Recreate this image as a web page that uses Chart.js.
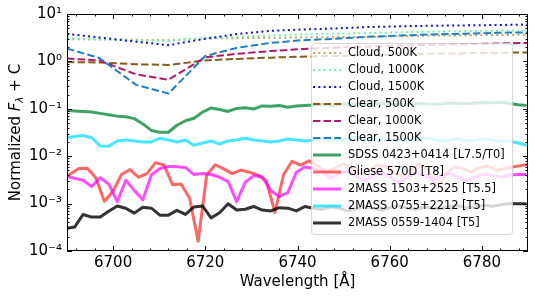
<!DOCTYPE html>
<html>
<head>
<meta charset="utf-8">
<script src="https://cdn.jsdelivr.net/npm/chart.js@4.4.1/dist/chart.umd.min.js"></script>
<style>
  html, body { margin: 0; padding: 0; background: #fff; }
</style>
</head>
<body>
<canvas id="spectra" width="535" height="299"></canvas>
<script>
const FONT = '"DejaVu Sans", sans-serif';

// model grid (coarse)
const WAVE_MODEL = [6690, 6697, 6705, 6712, 6720, 6727, 6734, 6741, 6748, 6755, 6762, 6769, 6776, 6783, 6790];
const CLOUD_500  = [2.95, 2.9, 2.85, 2.8, 3.05, 3.1, 3.15, 3.2, 3.25, 3.3, 3.4, 3.5, 3.55, 3.6, 3.65];
const CLOUD_1000 = [3.1, 2.95, 2.75, 2.7, 3.15, 3.35, 3.5, 3.7, 3.85, 3.95, 4.1, 4.25, 4.35, 4.45, 4.5];
const CLOUD_1500 = [3.8, 3.2, 2.6, 2.2, 3.0, 3.8, 4.4, 4.7, 4.95, 5.3, 5.5, 5.65, 5.75, 5.85, 6.0];
const CLEAR_500  = [0.97, 0.95, 0.87, 0.84, 1.05, 1.13, 1.2, 1.26, 1.3, 1.35, 1.4, 1.45, 1.48, 1.52, 1.55];
const CLEAR_1000 = [1.15, 1.05, 0.53, 0.41, 1.22, 1.45, 1.65, 1.82, 1.95, 2.05, 2.15, 2.25, 2.3, 2.38, 2.45];
const CLEAR_1500 = [1.87, 1.18, 0.32, 0.21, 1.3, 1.95, 2.45, 2.8, 3.0, 3.3, 3.5, 3.7, 3.85, 4.0, 4.1];

// observed spectra
const WAVE_OBS = [
  6689.8, 6691.65, 6693.5, 6695.35, 6697.2, 6699.05, 6700.9, 6702.75, 6704.6, 6706.45,
  6708.3, 6710.15, 6712.0, 6713.85, 6715.7, 6717.55, 6719.4, 6721.25, 6723.1, 6724.95,
  6726.8, 6728.65, 6730.5, 6732.35, 6734.2, 6736.05, 6737.9, 6739.75, 6741.6, 6743.45,
  6745.3, 6747.15, 6749.0, 6750.85, 6752.7, 6754.55, 6756.4, 6758.25, 6760.1, 6761.95,
  6763.8, 6765.65, 6767.5, 6769.35, 6771.2, 6773.05, 6774.9, 6776.75, 6778.6, 6780.45,
  6782.3, 6784.15, 6786.0, 6787.85, 6789.7
];
const WAVE_GLIESE = [
  6688.85, 6690.7, 6692.55, 6694.4, 6696.25, 6698.1, 6699.95, 6701.8, 6703.65, 6705.5,
  6707.35, 6709.2, 6711.05, 6712.9, 6714.75, 6716.6, 6718.45, 6720.3, 6722.15, 6724.0,
  6725.85, 6727.7, 6729.55, 6731.4, 6733.25, 6735.1, 6736.95, 6738.8, 6740.65, 6742.5,
  6744.35, 6746.2, 6748.05, 6749.9, 6751.75, 6753.6, 6755.45, 6757.3, 6759.15, 6761.0,
  6762.85, 6764.7, 6766.55, 6768.4, 6770.25, 6772.1, 6773.95, 6775.8, 6777.65, 6779.5,
  6781.35, 6783.2, 6785.05, 6786.9, 6788.75, 6790.6
];
const SDSS_0423 = [
  0.092, 0.090, 0.088, 0.086, 0.080, 0.075, 0.070, 0.068, 0.062, 0.048,
  0.035, 0.032, 0.032, 0.045, 0.056, 0.063, 0.085, 0.104, 0.097, 0.088,
  0.102, 0.105, 0.099, 0.115, 0.113, 0.117, 0.108, 0.115, 0.118, 0.120,
  0.125, 0.118, 0.122, 0.128, 0.125, 0.120, 0.124, 0.130, 0.127, 0.122,
  0.125, 0.130, 0.128, 0.124, 0.127, 0.132, 0.130, 0.128, 0.133, 0.136,
  0.134, 0.137, 0.130, 0.122, 0.117
];
const GLIESE_570D = [
  0.0034, 0.0042, 0.0055, 0.0056, 0.0035, 0.00112, 0.0018, 0.0041, 0.0052, 0.0036,
  0.0043, 0.0073, 0.0065, 0.0025, 0.0026, 0.0013, 0.00016, 0.0040, 0.0066, 0.0054,
  0.0043, 0.0051, 0.0046, 0.0040, 0.0030, 0.00065, 0.0040, 0.0078, 0.0065, 0.0080,
  0.0062, 0.0048, 0.0055, 0.0070, 0.0058, 0.0042, 0.0050, 0.0065, 0.0060, 0.0045,
  0.0038, 0.0052, 0.0068, 0.0050, 0.0022, 0.0040, 0.0060, 0.0055, 0.0046, 0.0058,
  0.0062, 0.0050, 0.0055, 0.0060, 0.0064, 0.0068
];
const MASS_1503 = [
  0.0038, 0.0034, 0.0031, 0.0023, 0.0035, 0.0026, 0.0011, 0.0031, 0.0019, 0.0012,
  0.0040, 0.0055, 0.0061, 0.0060, 0.0058, 0.0041, 0.0043, 0.0041, 0.0036, 0.0029,
  0.0011, 0.0028, 0.0039, 0.0037, 0.0019, 0.0014, 0.0017, 0.0046, 0.0059, 0.0055,
  0.0048, 0.0035, 0.0042, 0.0050, 0.0038, 0.0030, 0.0040, 0.0047, 0.0036, 0.0028,
  0.0035, 0.0045, 0.0040, 0.0032, 0.0038, 0.0044, 0.0036, 0.0030, 0.0037, 0.0042,
  0.0039, 0.0036, 0.0040, 0.0041, 0.0041
];
const MASS_0755 = [
  0.0245, 0.026, 0.0274, 0.0245, 0.0165, 0.0162, 0.021, 0.022, 0.021, 0.020,
  0.020, 0.024, 0.022, 0.020, 0.022, 0.017, 0.019, 0.021, 0.018, 0.021,
  0.022, 0.024, 0.022, 0.021, 0.020, 0.021, 0.023, 0.022, 0.021, 0.022,
  0.024, 0.022, 0.021, 0.023, 0.025, 0.023, 0.022, 0.024, 0.022, 0.021,
  0.023, 0.022, 0.024, 0.023, 0.021, 0.022, 0.023, 0.021, 0.022, 0.023,
  0.022, 0.021, 0.021, 0.019, 0.017
];
const MASS_0559 = [
  0.0003, 0.00032, 0.00059, 0.00052, 0.00052, 0.00069, 0.00089, 0.0008, 0.00063, 0.00084,
  0.0008, 0.00057, 0.00057, 0.00072, 0.00059, 0.00085, 0.00089, 0.0005, 0.00064, 0.00099,
  0.00073, 0.00076, 0.00087, 0.00073, 0.0007, 0.00082, 0.0008, 0.0007, 0.00087, 0.0008,
  0.00075, 0.00085, 0.0008, 0.0007, 0.00078, 0.00088, 0.0008, 0.00072, 0.00082, 0.0009,
  0.0008, 0.00075, 0.00085, 0.0008, 0.00078, 0.00088, 0.0009, 0.00082, 0.00085, 0.00092,
  0.00088, 0.00095, 0.001, 0.00099, 0.00099
];

const X_TICKS = [6700, 6720, 6740, 6760, 6780];
const X_TICK_LABELS = ['6700', '6720', '6740', '6760', '6780'];
const Y_TICKS = [1e-4, 1e-3, 1e-2, 1e-1, 1, 10];
const Y_TICK_LABELS = ['10\u207B\u2074', '10\u207B\u00B3', '10\u207B\u00B2', '10\u207B\u00B9', '10\u2070', '10\u00B9'];

const DOT = [2, 3.3];
const DASH = [7.4, 3.2];

const SERIES = [
  { label: 'Cloud, 500K',  x: WAVE_MODEL, y: CLOUD_500,  color: '#c4a065', dash: DOT,  width: 2 },
  { label: 'Cloud, 1000K', x: WAVE_MODEL, y: CLOUD_1000, color: '#6cf5ac', dash: DOT,  width: 2 },
  { label: 'Cloud, 1500K', x: WAVE_MODEL, y: CLOUD_1500, color: '#1414c8', dash: DOT,  width: 2 },
  { label: 'Clear, 500K',  x: WAVE_MODEL, y: CLEAR_500,  color: '#8c5a1e', dash: DASH, width: 2 },
  { label: 'Clear, 1000K', x: WAVE_MODEL, y: CLEAR_1000, color: '#b01a6a', dash: DASH, width: 2 },
  { label: 'Clear, 1500K', x: WAVE_MODEL, y: CLEAR_1500, color: '#2080c0', dash: DASH, width: 2 },
  { label: 'SDSS 0423+0414 [L7.5/T0]', x: WAVE_OBS, y: SDSS_0423, color: 'rgba(30,145,75,0.85)', dash: [], width: 3 },
  { label: 'Gliese 570D [T8]', x: WAVE_GLIESE, y: GLIESE_570D, color: 'rgba(255,60,60,0.78)', dash: [], width: 3 },
  { label: '2MASS 1503+2525 [T5.5]', x: WAVE_OBS, y: MASS_1503, color: 'rgba(255,0,255,0.7)', dash: [], width: 3 },
  { label: '2MASS 0755+2212 [T5]', x: WAVE_OBS, y: MASS_0755, color: 'rgba(0,220,255,0.72)', dash: [], width: 3 },
  { label: '2MASS 0559-1404 [T5]', x: WAVE_OBS, y: MASS_0559, color: 'rgba(0,0,0,0.8)', dash: [], width: 3 }
];

// frame with inward ticks on all four sides
const frameTicks = {
  id: 'frameTicks',
  afterDatasetsDraw(chart) {
    const { ctx, chartArea: a, scales: { x, y } } = chart;
    ctx.save();
    ctx.strokeStyle = '#000';
    ctx.lineWidth = 1;
    ctx.strokeRect(a.left + 0.5, a.top + 0.5, a.right - a.left - 1, a.bottom - a.top - 1);
    ctx.beginPath();
    for (let v = x.min + 2; v < x.max; v += 4) {
      const px = Math.round(x.getPixelForValue(v)) + 0.5;
      const len = (v % 20 === 0) ? 5 : 2.5;
      ctx.moveTo(px, a.bottom); ctx.lineTo(px, a.bottom - len);
      ctx.moveTo(px, a.top); ctx.lineTo(px, a.top + len);
    }
    for (let e = -4; e <= 1; e++) {
      for (let m = 1; m <= 9; m++) {
        if (e === 1 && m > 1) break;
        const py = Math.round(y.getPixelForValue(m * Math.pow(10, e))) + 0.5;
        const len = m === 1 ? 5 : 2.5;
        ctx.moveTo(a.left, py); ctx.lineTo(a.left + len, py);
        ctx.moveTo(a.right, py); ctx.lineTo(a.right - len, py);
      }
    }
    ctx.stroke();
    ctx.restore();
  }
};

const axisTitles = {
  id: 'axisTitles',
  afterDraw(chart) {
    const { ctx, chartArea: a } = chart;
    ctx.save();
    ctx.fillStyle = '#000';
    ctx.font = '15px ' + FONT;
    ctx.textAlign = 'center';
    ctx.textBaseline = 'alphabetic';
    ctx.fillText('Wavelength [\u00C5]', (a.left + a.right) / 2, 286);

    // y title: Normalized F_λ + C
    ctx.translate(20, (a.top + a.bottom) / 2);
    ctx.rotate(-Math.PI / 2);
    ctx.textAlign = 'left';
    const parts = [
      { t: 'Normalized ', f: '15px ' + FONT, dy: 0 },
      { t: 'F', f: 'oblique 15px ' + FONT, dy: 0 },
      { t: '\u03BB', f: 'oblique 10.5px ' + FONT, dy: 3 },
      { t: ' + C', f: '15px ' + FONT, dy: 0 }
    ];
    let total = 0;
    parts.forEach(p => { ctx.font = p.f; p.w = ctx.measureText(p.t).width; total += p.w; });
    let cx = -total / 2;
    parts.forEach(p => { ctx.font = p.f; ctx.fillText(p.t, cx, p.dy); cx += p.w; });
    ctx.restore();
  }
};

const legendBox = {
  id: 'legendBox',
  afterDraw(chart) {
    const ctx = chart.ctx;
    const x0 = 311, y0 = 43, w = 201, h = 191, r = 3;
    ctx.save();
    ctx.beginPath();
    ctx.roundRect(x0 + 0.5, y0 + 0.5, w, h, r);
    ctx.fillStyle = 'rgba(255,255,255,0.8)';
    ctx.fill();
    ctx.strokeStyle = 'rgba(204,204,204,0.8)';
    ctx.lineWidth = 1;
    ctx.stroke();
    ctx.font = '11.4px ' + FONT;
    ctx.textBaseline = 'middle';
    ctx.textAlign = 'left';
    SERIES.forEach((s, i) => {
      const cy = 53 + i * 17;
      ctx.beginPath();
      ctx.setLineDash(s.dash);
      ctx.lineWidth = s.width;
      ctx.strokeStyle = s.color;
      ctx.moveTo(313, cy);
      ctx.lineTo(341, cy);
      ctx.stroke();
      ctx.setLineDash([]);
      ctx.fillStyle = '#000';
      ctx.fillText(s.label, 348, cy + 0.5);
    });
    ctx.restore();
  }
};

function initChart() {
  const datasets = SERIES.map((s, i) => ({
    label: s.label,
    data: s.x.map((w, k) => ({ x: w, y: s.y[k] })),
    borderColor: s.color,
    borderWidth: s.width,
    borderDash: s.dash,
    borderCapStyle: 'butt',
    borderJoinStyle: 'round',
    pointRadius: 0,
    tension: 0,
    fill: false,
    order: SERIES.length - i
  }));

  new Chart(document.getElementById('spectra').getContext('2d'), {
    type: 'line',
    data: { datasets },
    plugins: [frameTicks, axisTitles, legendBox],
    options: {
      responsive: false,
      animation: false,
      devicePixelRatio: 1,
      layout: { padding: { top: 13, right: 7, left: 0, bottom: 0 } },
      plugins: { legend: { display: false }, tooltip: { enabled: false } },
      scales: {
        x: {
          type: 'linear',
          min: 6690,
          max: 6790,
          grid: { display: false, drawTicks: false },
          border: { display: false },
          ticks: {
            color: '#000',
            font: { family: FONT, size: 15 },
            padding: 3,
            autoSkip: false,
            maxRotation: 0,
            callback: v => X_TICK_LABELS[X_TICKS.indexOf(v)]
          },
          afterBuildTicks: s => { s.ticks = X_TICKS.map(v => ({ value: v })); },
          afterFit: s => { s.height = 48; }
        },
        y: {
          type: 'logarithmic',
          min: 1e-4,
          max: 10,
          grid: { display: false, drawTicks: false },
          border: { display: false },
          ticks: {
            color: '#000',
            font: { family: FONT, size: 15 },
            padding: 5,
            autoSkip: false,
            callback: v => Y_TICK_LABELS[Y_TICKS.indexOf(v)]
          },
          afterBuildTicks: s => { s.ticks = Y_TICKS.map(v => ({ value: v })); },
          afterFit: s => { s.width = 67; }
        }
      }
    }
  });
}

initChart();
</script>
</body>
</html>
